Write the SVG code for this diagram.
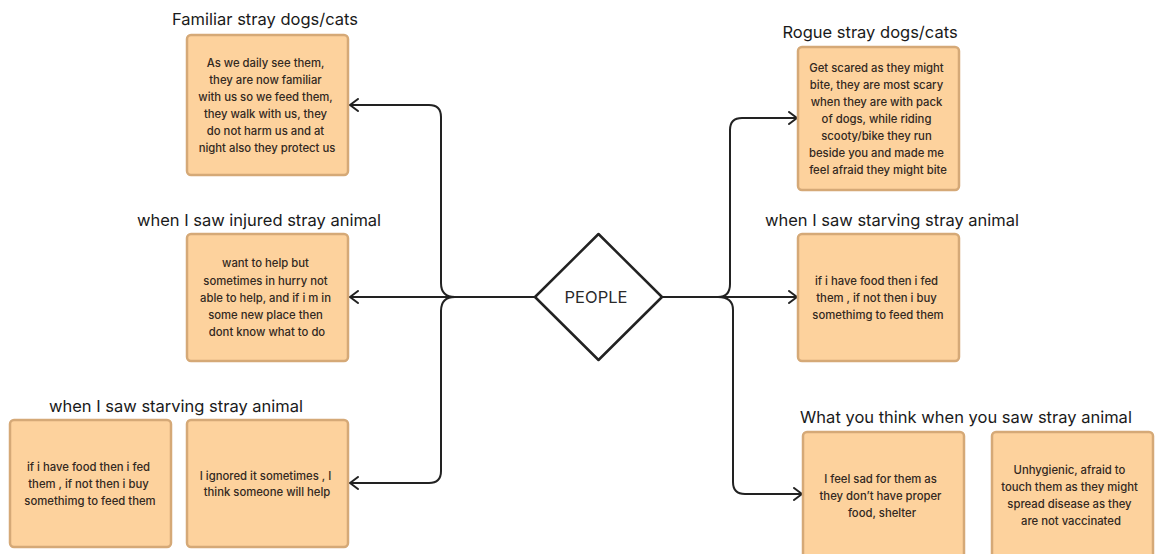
<svg xmlns="http://www.w3.org/2000/svg" width="1155" height="554" viewBox="0 0 1155 554">
<style>
.box{fill:#FDD29D;stroke:#D5A977;stroke-width:2.5}
.ttl{font-family:Inter,"Liberation Sans",sans-serif;font-size:16.5px;fill:#1a1a1a;text-anchor:middle}
.bd{font-family:Inter,"Liberation Sans",sans-serif;font-size:11.3px;font-weight:500;fill:#33291f;text-anchor:middle}
.cn{fill:none;stroke:#222;stroke-width:2;stroke-linecap:round}
</style>
<defs>
<marker id="arr" viewBox="0 0 10 14" refX="9" refY="7" markerWidth="10" markerHeight="14" markerUnits="userSpaceOnUse" orient="auto">
<path d="M1,1 L9,7 L1,13" fill="none" stroke="#222" stroke-width="2" stroke-linecap="round" stroke-linejoin="round"/>
</marker>
</defs>
<rect width="1155" height="554" fill="#ffffff"/>
<g id="connectors">
<path class="cn" d="M535,297 H350" marker-end="url(#arr)"/>
<path class="cn" d="M455,297 C446,297 441,292 441,283 V117 Q441,105 429,105 H350" marker-end="url(#arr)"/>
<path class="cn" d="M455,297 C446,297 441,302 441,311 V471 Q441,483 429,483 H350" marker-end="url(#arr)"/>
<path class="cn" d="M662,297 H797" marker-end="url(#arr)"/>
<path class="cn" d="M718,297 C726,297 730,292 730,284 V130 Q730,118 742,118 H797" marker-end="url(#arr)"/>
<path class="cn" d="M718,297 C728,297 733,302 733,310 V482 Q733,494 745,494 H802" marker-end="url(#arr)"/>
</g>
<g id="people">
<polygon points="598.5,234 662,297 598.5,360 535,297" fill="#ffffff" stroke="#222" stroke-width="2.5" stroke-linejoin="round"/>
<text x="596" y="303" font-family="Inter,'Liberation Sans',sans-serif" font-size="16.5" fill="#2a2a2a" text-anchor="middle">PEOPLE</text>
</g>
<g id="familiar">
<text class="ttl" x="265" y="25">Familiar stray dogs/cats</text>
<rect class="box" x="187" y="35" width="161" height="140" rx="4"/>
<text class="bd">
<tspan x="267" y="67">As we daily see them,</tspan>
<tspan x="267" y="84">they are now familiar</tspan>
<tspan x="267" y="101">with us so we feed them,</tspan>
<tspan x="267" y="118">they walk with us, they</tspan>
<tspan x="267" y="135">do not harm us and at</tspan>
<tspan x="267" y="152">night also they protect us</tspan>
</text>
</g>
<g id="injured">
<text class="ttl" x="259" y="226">when I saw injured stray animal</text>
<rect class="box" x="187" y="234" width="161" height="127" rx="4"/>
<text class="bd">
<tspan x="267" y="267">want to help but</tspan>
<tspan x="267" y="285">sometimes in hurry not</tspan>
<tspan x="267" y="302">able to help, and if i m in</tspan>
<tspan x="267" y="319">some new place then</tspan>
<tspan x="267" y="336">dont know what to do</tspan>
</text>
</g>
<g id="starving-left">
<text class="ttl" x="176" y="412">when I saw starving stray animal</text>
<rect class="box" x="10" y="420" width="161" height="127" rx="4"/>
<text class="bd">
<tspan x="90" y="471">if i have food then i fed</tspan>
<tspan x="90" y="488">them , if not then i buy</tspan>
<tspan x="90" y="505">somethimg to feed them</tspan>
</text>
</g>
<g id="ignored">
<rect class="box" x="187" y="420" width="161" height="127" rx="4"/>
<text class="bd">
<tspan x="267" y="480">I ignored it sometimes , I</tspan>
<tspan x="267" y="496">think someone will help</tspan>
</text>
</g>
<g id="rogue">
<text class="ttl" x="870" y="38">Rogue stray dogs/cats</text>
<rect class="box" x="798" y="47" width="161" height="143" rx="4"/>
<text class="bd">
<tspan x="878" y="72">Get scared as they might</tspan>
<tspan x="878" y="89">bite, they are most scary</tspan>
<tspan x="878" y="106">when they are with pack</tspan>
<tspan x="878" y="123">of dogs, while riding</tspan>
<tspan x="878" y="140">scooty/bike they run</tspan>
<tspan x="878" y="157">beside you and made me</tspan>
<tspan x="878" y="174">feel afraid they might bite</tspan>
</text>
</g>
<g id="starving-right">
<text class="ttl" x="892" y="226">when I saw starving stray animal</text>
<rect class="box" x="798" y="234" width="161" height="127" rx="4"/>
<text class="bd">
<tspan x="878" y="285">if i have food then i fed</tspan>
<tspan x="878" y="302">them , if not then i buy</tspan>
<tspan x="878" y="319">somethimg to feed them</tspan>
</text>
</g>
<g id="sad">
<text class="ttl" x="966" y="423">What you think when you saw stray animal</text>
<rect class="box" x="803" y="432" width="161" height="132" rx="4"/>
<text class="bd">
<tspan x="882" y="483">I feel sad for them as</tspan>
<tspan x="882" y="500">they don’t have proper</tspan>
<tspan x="882" y="517">food, shelter</tspan>
</text>
</g>
<g id="unhygienic">
<rect class="box" x="992" y="432" width="161" height="132" rx="4"/>
<text class="bd">
<tspan x="1071" y="474">Unhygienic, afraid to</tspan>
<tspan x="1071" y="491">touch them as they might</tspan>
<tspan x="1071" y="508">spread disease as they</tspan>
<tspan x="1071" y="525">are not vaccinated</tspan>
</text>
</g>
</svg>
